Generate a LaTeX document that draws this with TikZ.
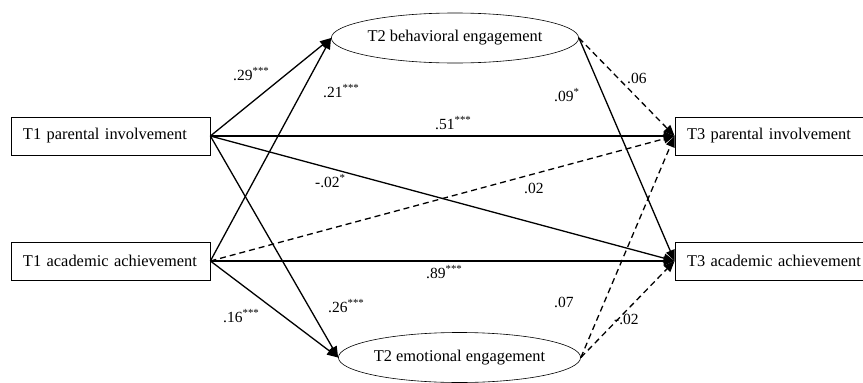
\documentclass[tikz,border=0pt]{standalone}
\usepackage{fontspec}
\setmainfont{Liberation Serif}
\usetikzlibrary{arrows.meta,shapes.geometric}
\begin{document}
\begin{tikzpicture}[x=1pt,y=-1pt,
  every node/.style={font=\fontsize{16.4}{19}\selectfont},
  lbox/.style={draw, line width=0.8pt, minimum height=38pt, text width=175pt, align=left, inner xsep=12pt, inner ysep=0pt},
  rbox/.style={draw, line width=0.8pt, minimum height=38pt, text width=164pt, align=left, inner xsep=12pt, inner ysep=0pt},
  latent/.style={draw, ellipse, line width=0.6pt, minimum width=210pt, minimum height=50pt, inner sep=0pt},
  path/.style={line width=1.3pt, -{Triangle[length=11pt,width=9pt]}},
  nspath/.style={path, dashed, dash pattern=on 6pt off 4pt},
  coef/.style={anchor=base west, inner sep=0pt, font=\fontsize{15.5}{18}\selectfont}
]
\useasboundingbox (0,0) rectangle (863,383);
\node[lbox] (pi1) at (110.5,136) {\mbox{T1 parental involvement}};
\node[lbox] (aa1) at (110.5,261) {\mbox{T1 academic achievement}};
\node[rbox] (pi3) at (769,136) {\mbox{T3 parental involvement}};
\node[rbox] (aa3) at (769,261) {\mbox{T3 academic achievement}};
\node[latent] (be) at (455,38) {T2 behavioral engagement};
\node[latent] (ee) at (459.5,357.5) {T2 emotional engagement};

\draw[path] (pi1.east) -- (be.west);
\draw[path] (pi1.east) -- (pi3.west);
\draw[path] (pi1.east) -- (aa3.west);
\draw[path] (pi1.east) -- (ee.west);
\draw[path] (aa1.east) -- (be.west);
\draw[nspath] (aa1.east) -- (pi3.west);
\draw[path] (aa1.east) -- (aa3.west);
\draw[path] (aa1.east) -- (ee.west);
\draw[nspath] (be.east) -- (pi3.west);
\draw[path] (be.east) -- (aa3.west);
\draw[nspath] (ee.east) -- (pi3.west);
\draw[nspath] (ee.east) -- (aa3.west);

\node[coef] (c1) at (233,80) {.29\textsuperscript{***}};
\node[coef] (c2) at (323,97) {.21\textsuperscript{***}};
\node[coef] (c3) at (435,129) {.51\textsuperscript{***}};
\node[coef] (c4) at (315,187) {-.02\textsuperscript{*}};
\node[coef] (c5) at (524,193) {.02};
\node[coef] (c6) at (554,101) {.09\textsuperscript{*}};
\node[coef] (c7) at (627,83) {.06};
\node[coef] (c8) at (426,278) {.89\textsuperscript{***}};
\node[coef] (c9) at (223,322) {.16\textsuperscript{***}};
\node[coef] (c10) at (328,312) {.26\textsuperscript{***}};
\node[coef] (c11) at (554,307) {.07};
\node[coef] (c12) at (614,324) {-.02};
\end{tikzpicture}
\end{document}
